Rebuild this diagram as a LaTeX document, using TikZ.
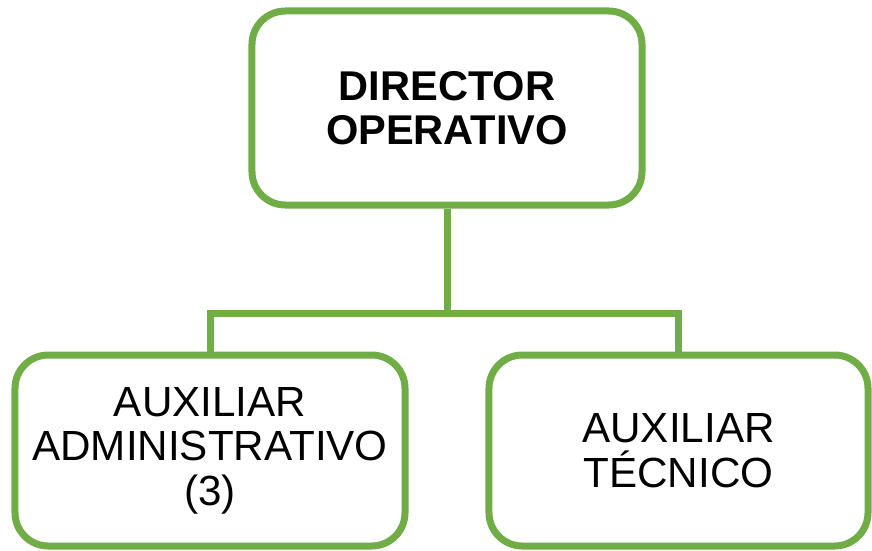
\documentclass[tikz,border=0pt]{standalone}
\usepackage{fontspec}
\setmainfont{Liberation Sans}
\definecolor{leafgreen}{HTML}{70AD47}
\tikzset{
    unit/.style={draw=leafgreen, line width=0.21cm, rounded corners=1cm, fill=white,
        align=center, inner sep=0pt, font=\fontsize{36}{38}\selectfont},
    chief/.style={unit, minimum width=11.7cm, minimum height=5.82cm,
        font=\fontsize{35.5}{37.5}\selectfont\bfseries},
    staff/.style={unit, minimum height=5.73cm},
    link/.style={leafgreen, line width=0.21cm, line join=miter},
}

\begin{document}
\begin{tikzpicture}[x=0.03cm, y=-0.03cm]
    \useasboundingbox (0,0) rectangle (872,550);
    \node[chief] (dir) at (447,108) {DIRECTOR\\OPERATIVO};
    \node[staff, minimum width=11.7cm] (adm) at (210,450.5) {AUXILIAR\\ADMINISTRATIVO\\(3)};
    \node[staff, minimum width=11.37cm] (tec) at (678.5,450.5) {AUXILIAR\\T\'ECNICO};
    \coordinate (bus) at (447,313);
    \draw[link] (dir.south) -- (bus) -| (adm.north);
    \draw[link] (bus) -| (tec.north);
\end{tikzpicture}
\end{document}
